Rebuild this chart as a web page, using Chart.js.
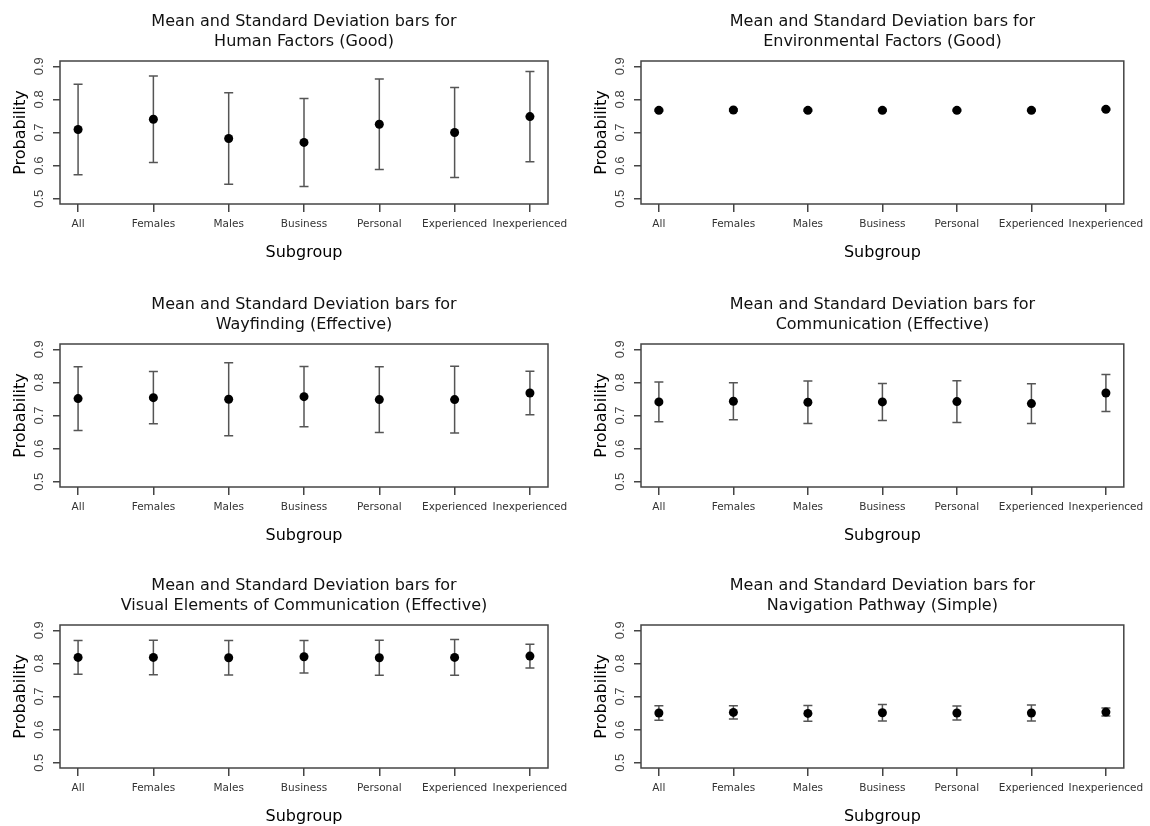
<!DOCTYPE html>
<html>
<head>
<meta charset="utf-8">
<script src="https://cdn.jsdelivr.net/npm/chart.js@4"></script>
<style>
  html, body { margin: 0; padding: 0; background: #fff; overflow: hidden; }
  body { width: 1150px; height: 826px; position: relative; }
  .panel { position: absolute; }
</style>
</head>
<body>
<div class="panel" style="left:0px;top:0px"><canvas id="c0" width="575" height="262"></canvas></div>
<div class="panel" style="left:581px;top:0px"><canvas id="c1" width="569" height="262"></canvas></div>
<div class="panel" style="left:0px;top:283px"><canvas id="c2" width="575" height="262"></canvas></div>
<div class="panel" style="left:581px;top:283px"><canvas id="c3" width="569" height="262"></canvas></div>
<div class="panel" style="left:0px;top:564px"><canvas id="c4" width="575" height="262"></canvas></div>
<div class="panel" style="left:581px;top:564px"><canvas id="c5" width="569" height="262"></canvas></div>
<script>
const categories = ['All', 'Females', 'Males', 'Business', 'Personal', 'Experienced', 'Inexperienced'];
const yTicks = [0.5, 0.6, 0.7, 0.8, 0.9];

const humanMean = [0.709, 0.740, 0.682, 0.670, 0.725, 0.700, 0.748];
const humanSd = [0.137, 0.131, 0.138, 0.133, 0.137, 0.136, 0.136];

const environmentMean = [0.767, 0.768, 0.767, 0.767, 0.767, 0.767, 0.770];
const environmentSd = [0.003, 0.003, 0.003, 0.003, 0.003, 0.003, 0.003];

const wayfindingMean = [0.751, 0.754, 0.749, 0.757, 0.748, 0.748, 0.768];
const wayfindingSd = [0.096, 0.079, 0.110, 0.091, 0.099, 0.101, 0.066];

const communicationMean = [0.741, 0.743, 0.740, 0.741, 0.742, 0.736, 0.768];
const communicationSd = [0.060, 0.056, 0.064, 0.056, 0.063, 0.060, 0.056];

const visualMean = [0.818, 0.818, 0.817, 0.820, 0.817, 0.818, 0.822];
const visualSd = [0.051, 0.052, 0.052, 0.049, 0.053, 0.054, 0.036];

const navigationMean = [0.650, 0.652, 0.649, 0.651, 0.650, 0.650, 0.653];
const navigationSd = [0.022, 0.020, 0.024, 0.025, 0.021, 0.024, 0.012];

const titleLine = 'Mean and Standard Deviation bars for';
const subtitles = [
    'Human Factors (Good)',
    'Environmental Factors (Good)',
    'Wayfinding (Effective)',
    'Communication (Effective)',
    'Visual Elements of Communication (Effective)',
    'Navigation Pathway (Simple)'
];

const FONT = "'DejaVu Sans', sans-serif";

// draws mean +/- sd whiskers with caps, through the chart scales
const errorBars = {
    id: 'errorBars',
    beforeDatasetsDraw(chart, args, opts) {
        const { ctx, scales: { x, y } } = chart;
        const mean = opts.mean, sd = opts.sd;
        ctx.save();
        ctx.strokeStyle = '#555';
        ctx.lineWidth = 1.5;
        for (let i = 0; i < mean.length; i++) {
            const px = x.getPixelForValue(i);
            const top = y.getPixelForValue(mean[i] + sd[i]);
            const bot = y.getPixelForValue(mean[i] - sd[i]);
            ctx.beginPath();
            ctx.moveTo(px, top); ctx.lineTo(px, bot);
            ctx.moveTo(px - 4.5, top); ctx.lineTo(px + 4.5, top);
            ctx.moveTo(px - 4.5, bot); ctx.lineTo(px + 4.5, bot);
            ctx.stroke();
        }
        ctx.restore();
    }
};

// box round the plot region + two-line title centred over it (like R's main)
const plotBox = {
    id: 'plotBox',
    afterDraw(chart, args, opts) {
        const { ctx, chartArea: a } = chart;
        ctx.save();
        ctx.strokeStyle = '#444';
        ctx.lineWidth = 1.5;
        ctx.strokeRect(a.left, a.top, a.right - a.left, a.bottom - a.top);
        ctx.fillStyle = '#111';
        ctx.font = '16px ' + FONT;
        ctx.textAlign = 'center';
        ctx.textBaseline = 'middle';
        const cx = (a.left + a.right) / 2;
        ctx.fillText(opts.lines[0], cx, 22);
        ctx.fillText(opts.lines[1], cx, 42);
        ctx.restore();
    }
};

function meanSdChart(id, subtitle, mean, sd, padRight) {
    return new Chart(document.getElementById(id), {
        type: 'scatter',
        data: {
            datasets: [{
                data: categories.map((c, i) => ({ x: i, y: mean[i] })),
                pointRadius: 4.5,
                pointHoverRadius: 4.5,
                backgroundColor: '#000',
                borderColor: '#000',
                borderWidth: 0
            }]
        },
        options: {
            responsive: false,
            animation: false,
            layout: { padding: { left: 0, right: padRight, top: 61, bottom: 0 } },
            plugins: {
                legend: { display: false },
                tooltip: { enabled: false },
                title: { display: false },
                errorBars: { mean: mean, sd: sd },
                plotBox: { lines: [titleLine, subtitle] }
            },
            scales: {
                x: {
                    type: 'linear',
                    min: -0.24,
                    max: 6.24,
                    afterBuildTicks: (s) => { s.ticks = categories.map((c, i) => ({ value: i })); },
                    afterFit: (s) => { s.height = 58; },
                    grid: { drawOnChartArea: false, drawTicks: true, tickLength: 8, color: '#444', lineWidth: 1.5 },
                    border: { display: false },
                    ticks: {
                        autoSkip: false, maxRotation: 0, minRotation: 0, padding: 6,
                        color: '#333', font: { family: FONT, size: 10.5 },
                        callback: (v) => categories[v]
                    },
                    title: {
                        display: true, text: 'Subgroup', color: '#000',
                        font: { family: FONT, size: 16 }, padding: { top: 0, bottom: 0 }
                    }
                },
                y: {
                    min: 0.484,
                    max: 0.916,
                    afterBuildTicks: (s) => { s.ticks = yTicks.map(v => ({ value: v })); },
                    afterFit: (s) => { s.width = 60; },
                    grid: { drawOnChartArea: false, drawTicks: true, tickLength: 7, color: '#444', lineWidth: 1.5 },
                    border: { display: false },
                    ticks: {
                        minRotation: 90, maxRotation: 90, crossAlign: 'center', padding: 5,
                        color: '#444', font: { family: "'Liberation Sans', sans-serif", size: 13 },
                        callback: (v) => v.toFixed(1)
                    },
                    title: {
                        display: true, text: 'Probability', color: '#000',
                        font: { family: FONT, size: 16 }, padding: { top: 11, bottom: 0 }
                    }
                }
            }
        },
        plugins: [errorBars, plotBox]
    });
}

meanSdChart('c0', subtitles[0], humanMean, humanSd, 27);
meanSdChart('c1', subtitles[1], environmentMean, environmentSd, 21);
meanSdChart('c2', subtitles[2], wayfindingMean, wayfindingSd, 27);
meanSdChart('c3', subtitles[3], communicationMean, communicationSd, 21);
meanSdChart('c4', subtitles[4], visualMean, visualSd, 27);
meanSdChart('c5', subtitles[5], navigationMean, navigationSd, 21);
</script>
</body>
</html>
